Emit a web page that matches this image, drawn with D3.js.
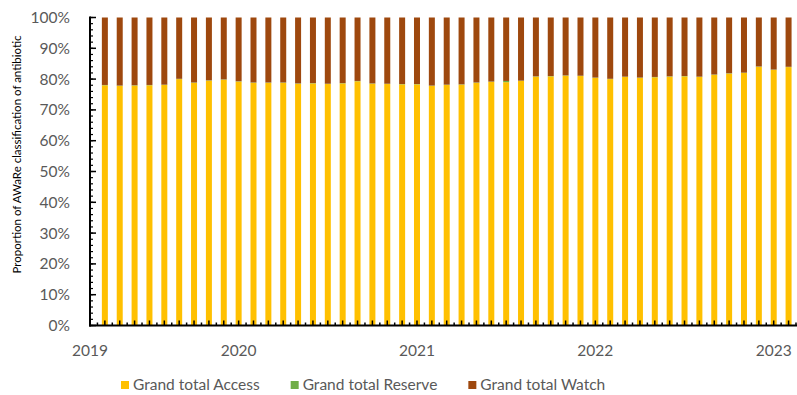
<!DOCTYPE html>
<html>
<head>
<meta charset="utf-8">
<script src="https://cdn.jsdelivr.net/npm/d3@7"></script>
<style>
  body { margin: 0; background: #fff; }
  text { font-family: Lato, "Open Sans", sans-serif; }
</style>
</head>
<body>
<div id="chart"></div>
<script>
// monthly categories
var months = ["2019-04","2019-05","2019-06","2019-07","2019-08","2019-09","2019-10","2019-11","2019-12",
  "2020-01","2020-02","2020-03","2020-04","2020-05","2020-06","2020-07","2020-08","2020-09","2020-10","2020-11","2020-12",
  "2021-01","2021-02","2021-03","2021-04","2021-05","2021-06","2021-07","2021-08","2021-09","2021-10","2021-11","2021-12",
  "2022-01","2022-02","2022-03","2022-04","2022-05","2022-06","2022-07","2022-08","2022-09","2022-10","2022-11","2022-12",
  "2023-01","2023-02"];

// percent of each AWaRe group
var access = [78.0,77.8,77.9,78.0,78.1,80.0,78.8,79.5,79.8,79.2,78.8,78.8,78.8,78.5,78.6,78.4,78.6,79.3,78.5,78.4,
  78.3,78.3,77.8,78.1,78.2,78.8,79.1,79.0,79.4,80.8,80.9,81.1,81.0,80.4,80.0,80.7,80.4,80.6,80.8,80.9,
  80.7,81.4,81.8,82.0,84.0,83.0,83.9];
var reserve = [0.1,0.1,0.1,0.1,0.1,0.1,0.1,0.1,0.1,0.1,0.1,0.1,0.1,0.1,0.1,0.1,0.1,0.1,0.1,0.1,
  0.1,0.1,0.1,0.1,0.1,0.1,0.1,0.4,0.1,0.1,0.1,0.1,0.1,0.1,0.1,0.1,0.1,0.1,0.1,0.1,
  0.1,0.1,0.1,0.1,0.1,0.1,0.1];
var watch = [21.9,22.1,22.0,21.9,21.8,19.9,21.1,20.4,20.1,20.7,21.1,21.1,21.1,21.4,21.3,21.5,21.3,20.6,21.4,21.5,
  21.6,21.6,22.1,21.8,21.7,21.1,20.8,20.6,20.5,19.1,19.0,18.8,18.9,19.5,19.9,19.2,19.5,19.3,19.1,19.0,
  19.2,18.5,18.1,17.9,15.9,16.9,16.0];

var seriesNames = ["Grand total Access", "Grand total Reserve", "Grand total Watch"];
var seriesColors = ["#FFC000", "#70AD47", "#9E480E"];
var yearLabels = ["2019", "2020", "2021", "2022", "2023"];
var yTicks = [0, 0.1, 0.2, 0.3, 0.4, 0.5, 0.6, 0.7, 0.8, 0.9, 1];

var W = 797, H = 395;
var plot = {left: 90, right: 796, top: 17.5, bottom: 325.5};

var svg = d3.select("#chart").append("svg")
  .attr("width", W).attr("height", H);

var rows = months.map(function(m, i) {
  return {month: m, i: i, access: access[i], reserve: reserve[i], watch: watch[i]};
});

var keys = ["access", "reserve", "watch"];
var stacked = d3.stack().keys(keys).offset(d3.stackOffsetExpand)(rows);

// month index scale (axis starts one month before first bar)
var x = d3.scaleLinear()
  .domain([-1, months.length - 0.5])
  .range([plot.left, plot.right]);
var y = d3.scaleLinear().domain([0, 1]).range([plot.bottom, plot.top]);
var barW = 6;

// bars
svg.append("g").selectAll("g")
  .data(stacked)
  .join("g")
    .attr("fill", function(d, i) { return seriesColors[i]; })
  .selectAll("rect")
  .data(function(d) { return d; })
  .join("rect")
    .attr("x", function(d) { return x(d.data.i) - barW / 2; })
    .attr("y", function(d) { return y(d[1]); })
    .attr("width", barW)
    .attr("height", function(d) { return y(d[0]) - y(d[1]); });

// y axis: major ticks every 10%, minor every 2%
var minorY = d3.range(0, 51).map(function(v) { return v / 50; });
var yAxisG = svg.append("g").attr("transform", "translate(" + plot.left + ",0)");
yAxisG.selectAll("line.minor").data(minorY).join("line")
  .attr("x1", 0).attr("x2", 3)
  .attr("y1", function(d) { return y(d); }).attr("y2", function(d) { return y(d); })
  .attr("stroke", "#000").attr("stroke-width", 1.2);
yAxisG.selectAll("line.major").data(yTicks).join("line")
  .attr("x1", 0).attr("x2", 6)
  .attr("y1", function(d) { return y(d); }).attr("y2", function(d) { return y(d); })
  .attr("stroke", "#000").attr("stroke-width", 1.5);
yAxisG.append("line")
  .attr("x1", 0).attr("x2", 0).attr("y1", plot.top - 1).attr("y2", plot.bottom + 1)
  .attr("stroke", "#000").attr("stroke-width", 2);
yAxisG.selectAll("text").data(yTicks).join("text")
  .attr("x", -20).attr("y", function(d) { return y(d); })
  .attr("dy", "0.35em")
  .attr("text-anchor", "end")
  .attr("fill", "#595959")
  .style("font-size", "15.5px")
  .text(d3.format(".0%"));

// x axis: ticks at bar centres and between bars
var halfSteps = d3.range(-2, 2 * months.length).map(function(v) { return v / 2; });
var xAxisG = svg.append("g").attr("transform", "translate(0," + plot.bottom + ")");
xAxisG.selectAll("line.tick").data(halfSteps).join("line")
  .attr("x1", function(d) { return x(d); }).attr("x2", function(d) { return x(d); })
  .attr("y1", 0).attr("y2", function(d) { return Number.isInteger(d) ? -5 : -3; })
  .attr("stroke", "#000").attr("stroke-width", 1.5);
xAxisG.append("line")
  .attr("x1", plot.left - 1).attr("x2", plot.right + 1).attr("y1", 0).attr("y2", 0)
  .attr("stroke", "#000").attr("stroke-width", 2);
xAxisG.selectAll("text").data(yearLabels).join("text")
  .attr("x", function(yr) {
    var k = months.indexOf(yr + "-01");
    return x(k < 0 ? -1 : k);
  })
  .attr("y", 30)
  .attr("text-anchor", "middle")
  .attr("fill", "#595959")
  .style("font-size", "15.5px")
  .text(function(d) { return d; });

// y axis title
svg.append("text")
  .attr("transform", "translate(21," + ((plot.top + plot.bottom) / 2 - 17) + ") rotate(-90)")
  .attr("text-anchor", "middle")
  .attr("fill", "#000")
  .style("font-size", "11.5px")
  .text("Proportion of AWaRe classification of antibiotic");

// legend
var legend = svg.append("g").attr("transform", "translate(121,381)");
var lx = 0;
seriesNames.forEach(function(name, i) {
  var g = legend.append("g").attr("transform", "translate(" + lx + ",0)");
  g.append("rect").attr("width", 8).attr("height", 8).attr("fill", seriesColors[i]);
  var t = g.append("text").attr("x", 12).attr("y", 4).attr("dy", "0.35em")
    .attr("fill", "#595959").style("font-size", "15.5px").text(name);
  lx += 12 + t.node().getComputedTextLength() + 31;
});
</script>
</body>
</html>
